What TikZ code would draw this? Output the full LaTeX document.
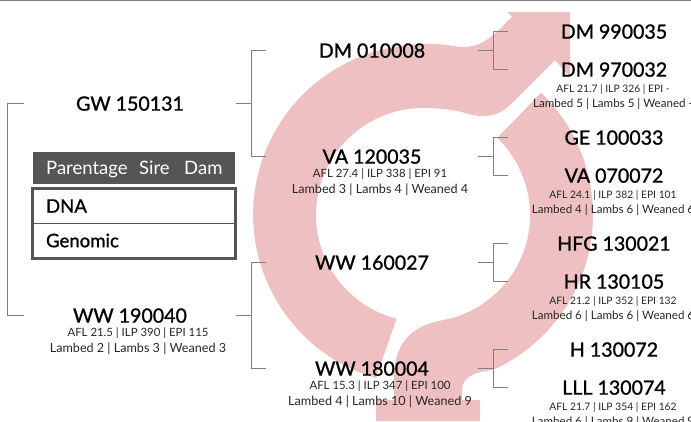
\documentclass[tikz,border=0pt]{standalone}
\usepackage{fontspec}
\setmainfont{Lato}
\newfontfamily\mediumfont[FakeBold=1.1]{Lato}
\newfontfamily\rowfont[FakeBold=0.9]{Lato}
\definecolor{ringpink}{HTML}{EFC0C2}
\definecolor{legenddark}{HTML}{555555}
\definecolor{linegrey}{HTML}{808080}
\newcommand{\figs}[1]{{\fontsize{11.4}{15.5}\selectfont #1}}
\newcommand{\figsr}[1]{{\fontsize{10.3}{15}\selectfont #1}}
\tikzset{
  animal/.style={minimum width=212pt, inner sep=0pt, yshift=-0.6pt, font=\fontsize{19.6}{19}\selectfont\mediumfont, text=black},
  stats/.style={align=center, inner sep=0pt, yshift=-1.5pt, font=\fontsize{12.6}{15.5}\selectfont, text=black!85},
  statsright/.style={stats, font=\fontsize{11.6}{15}\selectfont},
  bracket/.style={draw=linegrey, line width=1.1pt},
  headtext/.style={anchor=base west, inner sep=0pt, text=white, font=\fontsize{18.5}{18.5}\selectfont},
  rowbox/.style={draw=legenddark, line width=1pt, minimum width=202pt, minimum height=34pt, inner sep=0pt, inner xsep=13pt, text width=176pt, align=left, font=\fontsize{18.6}{18}\selectfont\rowfont}
}
\begin{document}
\begin{tikzpicture}[x=1pt,y=-1pt]
  \useasboundingbox (0,0) rectangle (691,421);

  % ring with the two arms
  \fill[ringpink] (376,378) arc[start angle=253.9, end angle=95, radius=170pt]
    .. controls (440,40) and (460,50) .. (472,46)
    .. controls (483,44) and (490,39) .. (512,17)
    -- (507,12) -- (570,12) -- (570,77) -- (555,60) -- (510,105)
    .. controls (497,118) and (480,118) .. (465,113)
    .. controls (455,110) and (440,108) .. (423,108)
    arc[start angle=90, end angle=255.7, radius=107pt] -- cycle;
  \fill[ringpink] (541.1,92.7) arc[start angle=46, end angle=-65, radius=170pt]
    .. controls (485,372) and (462,372) .. (462,390)
    -- (462,400) -- (480,400) -- (480,421) -- (376,421) -- (376,400) -- (394,400) -- (394,377)
    .. controls (394,345) and (410,326) .. (441.6,320.4)
    arc[start angle=-80, end angle=46.1, radius=107pt] -- cycle;

  \draw[linegrey, line width=1.5pt] (0,0.5) -- (691,0.5);

  % left column
  \node[animal] (gw) at (130,103) {GW 150131};
  \node[animal] (ww1) at (130,315) {WW 190040};
  \node[stats] (ww1stats) at (138,339.5) {\figs{AFL 21.5 | ILP 390 | EPI 115}\\Lambed 2 | Lambs 3 | Weaned 3};

  % middle column
  \node[animal] (dm1) at (372,50) {DM 010008};
  \node[animal] (va1) at (372,156) {VA 120035};
  \node[stats] (va1stats) at (380,180.5) {\figs{AFL 27.4 | ILP 338 | EPI 91}\\Lambed 3 | Lambs 4 | Weaned 4};
  \node[animal] (ww2) at (372,262) {WW 160027};
  \node[animal] (ww3) at (372,368) {WW 180004};
  \node[stats] (ww3stats) at (380,392.5) {\figs{AFL 15.3 | ILP 347 | EPI 100}\\Lambed 4 | Lambs 10 | Weaned 9};

  % right column
  \node[animal] (dm2) at (614,31) {DM 990035};
  \node[animal] (dm3) at (614,69) {DM 970032};
  \node[statsright] (dm3stats) at (613,96) {\figsr{AFL 21.7 | ILP 326 | EPI -}\\Lambed 5 | Lambs 5 | Weaned -};
  \node[animal] (ge) at (614,137) {GE 100033};
  \node[animal] (va2) at (614,175) {VA 070072};
  \node[statsright] (va2stats) at (613,201.5) {\figsr{AFL 24.1 | ILP 382 | EPI 101}\\Lambed 4 | Lambs 6 | Weaned 6};
  \node[animal] (hfg) at (614,243) {HFG 130021};
  \node[animal] (hr) at (614,281) {HR 130105};
  \node[statsright] (hrstats) at (613,307.5) {\figsr{AFL 21.2 | ILP 352 | EPI 132}\\Lambed 6 | Lambs 6 | Weaned 6};
  \node[animal] (h) at (614,349) {H 130072};
  \node[animal] (lll) at (614,387) {LLL 130074};
  \node[statsright] (lllstats) at (613,413.5) {\figsr{AFL 21.7 | ILP 354 | EPI 162}\\Lambed 6 | Lambs 9 | Weaned 9};

  % brackets
  \draw[bracket] (gw.west) -- ++(-16,0) |- (ww1.west);
  \draw[bracket] (gw.east) -- ++(15,0) coordinate (gwfork) (dm1.west) -| (gwfork) |- (va1.west);
  \draw[bracket] (ww1.east) -- ++(15,0) coordinate (ww1fork) (ww2.west) -| (ww1fork) |- (ww3.west);
  \draw[bracket] (dm1.east) -- ++(15,0) coordinate (dm1fork) (dm2.west) -| (dm1fork) |- (dm3.west);
  \draw[bracket] (va1.east) -- ++(15,0) coordinate (va1fork) (ge.west) -| (va1fork) |- (va2.west);
  \draw[bracket] (ww2.east) -- ++(15,0) coordinate (ww2fork) (hfg.west) -| (ww2fork) |- (hr.west);
  \draw[bracket] (ww3.east) -- ++(15,0) coordinate (ww3fork) (h.west) -| (ww3fork) |- (lll.west);

  % legend
  \node[fill=legenddark, minimum width=202pt, minimum height=32pt, inner sep=0pt] (legendhead) at (134,168) {};
  \node[headtext] (parentage) at (46,174) {Parentage};
  \node[headtext] (sire) at (139,174) {Sire};
  \node[headtext] (dam) at (184,174) {Dam};
  \node[rowbox] (dna) at (134,206) {\raisebox{-1pt}{DNA}};
  \node[rowbox, minimum height=35pt] (genomic) at (134,240.5) {Genomic};
  \draw[legenddark, line width=2.4pt] (dna.north west) rectangle (genomic.south east);
\end{tikzpicture}
\end{document}
